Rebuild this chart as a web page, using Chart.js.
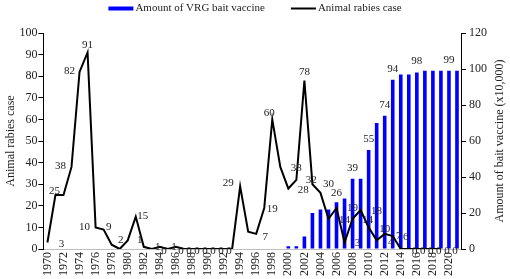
<!DOCTYPE html>
<html>
<head>
<meta charset="utf-8">
<script src="https://cdn.jsdelivr.net/npm/chart.js@4.4.0/dist/chart.umd.min.js"></script>
<style>
  html, body { margin: 0; padding: 0; background: #fff; }
  #wrap { width: 510px; height: 279px; position: relative; }
</style>
</head>
<body>
<div id="wrap"><canvas id="rabiesChart"></canvas></div>
<script>
// categories
const years = ['1970','1971','1972','1973','1974','1975','1976','1977','1978','1979',
  '1980','1981','1982','1983','1984','1985','1986','1987','1988','1989',
  '1990','1991','1992','1993','1994','1995','1996','1997','1998','1999',
  '2000','2001','2002','2003','2004','2005','2006','2007','2008','2009',
  '2010','2011','2012','2013','2014','2015','2016','2017','2018','2019',
  '2020','2021'];

// animal rabies cases (left axis)
const rabiesCases = [3,25,25,38,82,91,10,9,2,0,
  4,15,1,0,1,0,1,0,0,0,
  0,0,0,0,29,8,7,19,60,38,
  28,32,78,30,26,14,19,3,14,18,
  10,4,7,6,0,0,0,0,0,0,
  null,null];

// VRG bait vaccine, x10,000 (right axis)
const baitVaccine = [null,null,null,null,null,null,null,null,null,null,
  null,null,null,null,null,null,null,null,null,null,
  null,null,null,null,null,null,null,null,null,null,
  1.5,1.5,7,20,22,22,26,28,39,39,
  55,70,74,94,97,97,98,99,99,99,
  99,99];

const leftTicks = [0,10,20,30,40,50,60,70,80,90,100];
const rightTicks = [0,20,40,60,80,100,120];

const serif = '"Liberation Serif", "Times New Roman", serif';
const textColor = '#222';

// where each case label sits relative to its point (px)
const caseLabelShift = {
  1970:[14,2], 1971:[-1,-4], 1973:[-11,-1], 1974:[-10,-1], 1975:[0,-7],
  1976:[-11,0], 1977:[5,-2], 1978:[9,-5], 1981:[7,0], 1982:[-4,-7],
  1984:[-2,0], 1985:[-4,2], 1986:[-2,0], 1987:[-3,2], 1988:[-3,2],
  1989:[-3,2], 1990:[-3,2], 1991:[-3,2], 1992:[-3,2], 1993:[-3,2],
  1994:[-12,-3], 1996:[9,3], 1997:[8,1], 1998:[-3,-6],
  1999:[16,1], 2000:[15,2], 2001:[15,0], 2002:[0,-8], 2003:[16,0],
  2004:[16,0], 2005:[16,1], 2006:[16,0], 2007:[13,1], 2008:[15,1],
  2009:[16,1], 2010:[16,2], 2011:[14,2], 2012:[14,2], 2013:[13,1],
  2014:[14,2], 2015:[14,2], 2016:[14,2], 2017:[14,2], 2018:[14,2], 2019:[14,2]
};
const vaccineLabelYears = ['2008','2010','2012','2013','2016','2020'];

const valueLabels = {
  id: 'valueLabels',
  afterDatasetsDraw(chart) {
    const c = chart.ctx;
    c.save();
    c.font = '11px ' + serif;
    c.fillStyle = textColor;
    c.textAlign = 'center';
    c.textBaseline = 'middle';
    const lineMeta = chart.getDatasetMeta(1);
    lineMeta.data.forEach((pt, i) => {
      const shift = caseLabelShift[years[i]];
      if (!shift || rabiesCases[i] == null) return;
      c.fillText(String(rabiesCases[i]), pt.x + shift[0], pt.y + shift[1]);
    });
    const barMeta = chart.getDatasetMeta(0);
    barMeta.data.forEach((bar, i) => {
      if (!vaccineLabelYears.includes(years[i])) return;
      c.fillText(String(baitVaccine[i]), bar.x, bar.y - 11);
    });
    c.restore();
  }
};

const topLegend = {
  id: 'topLegend',
  afterDraw(chart) {
    const c = chart.ctx;
    const sets = chart.data.datasets;
    c.save();
    c.font = '11px ' + serif;
    c.textBaseline = 'middle';
    const w1 = c.measureText(sets[0].label).width;
    const w2 = c.measureText(sets[1].label).width;
    const total = 25 + 2 + w1 + 26 + 25 + 2 + w2;
    let x = chart.width / 2 - total / 2;
    const y = 8.5;
    c.fillStyle = sets[0].backgroundColor;
    c.fillRect(x, y - 2, 25, 4);
    x += 27;
    c.fillStyle = textColor;
    c.fillText(sets[0].label, x, y);
    x += w1 + 26;
    c.strokeStyle = sets[1].borderColor;
    c.lineWidth = 2;
    c.beginPath();
    c.moveTo(x, y);
    c.lineTo(x + 25, y);
    c.stroke();
    x += 27;
    c.fillText(sets[1].label, x, y);
    c.restore();
  }
};

const rightTitle = {
  id: 'rightTitle',
  afterDraw(chart) {
    const c = chart.ctx;
    const area = chart.chartArea;
    c.save();
    c.font = '12px ' + serif;
    c.fillStyle = textColor;
    c.textAlign = 'center';
    c.textBaseline = 'middle';
    c.translate(chart.width - 10, (area.top + area.bottom) / 2);
    c.rotate(-Math.PI / 2);
    c.fillText('Amount of bait vaccine (x10,000)', 0, 0);
    c.restore();
  }
};

const tickFont = { family: serif, size: 12 };

new Chart(document.getElementById('rabiesChart').getContext('2d'), {
  type: 'bar',
  data: {
    labels: years,
    datasets: [
      {
        type: 'bar',
        label: 'Amount of VRG bait vaccine',
        data: baitVaccine,
        backgroundColor: '#0000ff',
        yAxisID: 'y1',
        order: 2,
        barPercentage: 0.45,
        categoryPercentage: 1
      },
      {
        type: 'line',
        label: 'Animal rabies case',
        data: rabiesCases,
        borderColor: '#000000',
        borderWidth: 2,
        pointRadius: 0,
        tension: 0,
        yAxisID: 'y',
        order: 1
      }
    ]
  },
  options: {
    responsive: true,
    maintainAspectRatio: false,
    animation: false,
    layout: { padding: { top: 33, right: 20, left: 3, bottom: 0 } },
    plugins: {
      legend: { display: false },
      tooltip: { enabled: false }
    },
    scales: {
      x: {
        offset: true,
        grid: { display: false, drawTicks: false },
        border: { display: true, color: '#bfbfbf' },
        ticks: {
          autoSkip: false,
          maxRotation: 90,
          minRotation: 90,
          padding: 3,
          color: textColor,
          font: tickFont,
          callback: (v, i) => (i % 2 === 0 ? years[i] : '')
        }
      },
      y: {
        position: 'left',
        min: 0,
        max: 100,
        afterBuildTicks: (axis) => { axis.ticks = leftTicks.map(v => ({ value: v })); },
        ticks: { color: textColor, font: tickFont, padding: 1 },
        grid: { drawOnChartArea: false, tickLength: 5, color: '#000' },
        border: { display: true, color: '#000' },
        title: {
          display: true,
          text: 'Animal rabies case',
          color: textColor,
          font: tickFont,
          padding: { top: 1, bottom: 0 }
        }
      },
      y1: {
        position: 'right',
        min: 0,
        max: 120,
        afterBuildTicks: (axis) => { axis.ticks = rightTicks.map(v => ({ value: v })); },
        ticks: { color: textColor, font: tickFont, padding: 3 },
        grid: { drawOnChartArea: false, tickLength: 5, color: '#000' },
        border: { display: true, color: '#000' }
      }
    }
  },
  plugins: [valueLabels, topLegend, rightTitle]
});
</script>
</body>
</html>
